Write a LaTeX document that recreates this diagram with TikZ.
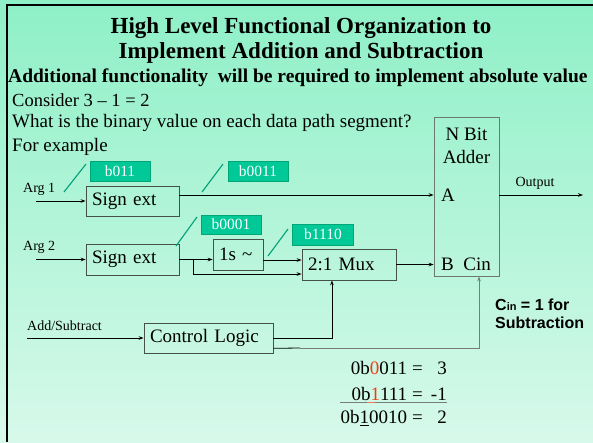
\documentclass[tikz,border=0pt]{standalone}
\usepackage{fontspec}
\setmainfont{Liberation Serif}
\newfontfamily\arialf{Liberation Sans}
\usetikzlibrary{arrows.meta,calc}
\definecolor{bgtop}{RGB}{142,240,198}
\definecolor{bgbot}{RGB}{215,249,235}
\definecolor{tagfill}{RGB}{0,200,150}
\definecolor{tagdraw}{RGB}{0,165,120}
\definecolor{slashc}{RGB}{0,160,120}
\definecolor{boxdraw}{RGB}{70,80,75}
\definecolor{adderdraw}{RGB}{110,120,115}
\definecolor{eqred}{RGB}{240,60,20}
\definecolor{cinline}{RGB}{120,125,122}
\newcommand{\myfs}[2]{\fontsize{#1}{#2}\selectfont}
\begin{document}
\begin{tikzpicture}[x=1pt,y=-1pt,
  box/.style={draw=boxdraw, line width=0.8pt, inner xsep=6pt, inner ysep=0pt, align=left, font=\myfs{19}{21}},
  tag/.style={fill=tagfill, draw=tagdraw, line width=0.8pt, text=white, font=\myfs{15.5}{17}, minimum width=60pt, minimum height=20pt, inner sep=0pt},
  slash/.style={draw=slashc, line width=1.1pt},
  arr/.style={-{Stealth[length=5pt,width=3.6pt]}, line width=0.8pt},
  small/.style={font=\myfs{14}{16}, inner sep=0pt},
  txt/.style={anchor=west, inner sep=0pt}]
\fill[top color=bgtop, bottom color=bgbot] (0,0) rectangle (593,442);
\useasboundingbox (0,0) rectangle (593,442);
\draw[line width=2.6pt, black] (593,5) -- (7,5) -- (7,442);

% texts
\node[font=\bfseries\myfs{23}{25}, align=center, inner sep=0pt] (title) at (301,40) {High Level Functional Organization to\\Implement Addition and Subtraction};
\node[txt, font=\bfseries\myfs{19.5}{22}] (addl) at (8,78) {Additional functionality~ will be required to implement absolute value};
\node[txt, font=\myfs{18.5}{20}] (consider) at (12,100) {Consider 3 \textendash\ 1 = 2};
\node[txt, font=\myfs{19}{21}] (what) at (12,123) {What is the binary value on each data path segment?};
\node[txt, font=\myfs{19}{21}] (forex) at (12,147) {For example};

% blocks
\node[box, text width=81pt, minimum height=30pt] (s1) at (132.5,201) {Sign ext};
\node[box, text width=81pt, minimum height=31pt] (s2) at (132.5,259.5) {Sign ext};
\node[box, text width=38pt, minimum height=31pt] (ones) at (238,254.5) {1s \char`~};
\node[box, text width=82pt, minimum height=31pt] (mux) at (349,264.5) {2:1 Mux};
\node[box, text width=117pt, minimum height=30pt] (ctl) at (208.5,338) {Control Logic};
\node[draw=adderdraw, line width=0.8pt, minimum width=65pt, minimum height=159pt, inner sep=0pt] (adder) at (466.5,196.5) {};
\node[font=\myfs{19}{23}, align=center, inner sep=0pt] (addername) at (466.5,146) {N Bit\\Adder};
\node[txt, font=\myfs{19}{21}] (portA) at (441,195) {A};
\node[txt, font=\myfs{19}{21}] (portB) at (441,264) {B~~Cin};

% labels
\node[small, anchor=west] (arg1) at (23,189) {Arg 1};
\node[small, anchor=west] (arg2) at (23,247) {Arg 2};
\node[small, anchor=west] (addsubl) at (27,326) {Add/Subtract};
\node[small] (outl) at (535,183) {Output};
\node[txt, align=left, font=\arialf\bfseries\myfs{16}{18}] (cinl) at (495,314) {C{\myfs{11}{12}in} = 1 for\\Subtraction};

% tags and slashes
\node[tag] (t1) at (120,171) {b011};
\node[tag] (t2) at (258,171) {b0011};
\node[tag, minimum height=19pt] (t3) at (231,224.5) {b0001};
\node[tag, minimum width=61pt, minimum height=21pt] (t4) at (323,234.5) {b1110};
\draw[slash] (64,192) -- (86,164);
\draw[slash] (202,192) -- (223,164);
\draw[slash] (176,246) -- (197,217);
\draw[slash] (268,256) -- (288,229);

% connectors
\coordinate (arg1in) at (36,201);
\coordinate (arg2in) at (36,259.5);
\coordinate (asin) at (27,338);
\coordinate (Ain) at (434,195);
\coordinate (outend) at (583,195);
\coordinate (br) at (193,259.5);
\coordinate (m1) at (302,260);
\coordinate (m2) at (302,274);
\coordinate (mid) at (300,348);
\draw[arr] (arg1in) -- (s1.west);
\draw[arr] (s1.east |- Ain) -- (adder.west |- Ain);
\draw[arr] (adder.east |- Ain) -- (outend);
\draw[arr] (arg2in) -- (s2.west);
\draw[arr] (s2.east) -- (s2.east -| ones.west);
\draw[arr] (br) |- (mux.west |- m2);
\draw[arr] (ones.east |- m1) -- (mux.west |- m1);
\draw[arr] (mux.east) -- (mux.east -| adder.west);
\draw[arr] (asin) -- (ctl.west);
\draw[arr] (ctl.east) -| ($(mux.south west)!0.32!(mux.south east)$);
\draw[line width=0.8pt] ($(ctl.east)!0.67!(ctl.south east)$) -- (mid);
\draw[arr, draw=cinline] (mid) -| ($(adder.south west)!0.69!(adder.south east)$);

% equations
\node[anchor=east, inner sep=0pt, font=\myfs{19}{21}] (eq1) at (447,368) {0b{\color{eqred}0}011\hspace{5pt}=\makebox[24pt][r]{3}};
\node[anchor=east, inner sep=0pt, font=\myfs{19}{21}] (eq2) at (447,394) {0b{\color{eqred}1}111\hspace{5pt}=\makebox[24pt][r]{-1}};
\node[anchor=east, inner sep=0pt, font=\myfs{19}{21}] (eq3) at (447,418) {0b\underline{1}0010\hspace{5pt}=\makebox[24pt][r]{2}};
\draw[line width=1pt, draw=cinline] (eq3.west |- 0,402) -- (eq2.east |- 0,402);
\draw[line width=1pt, draw=eqred!70] (367,402) -- (375,402);
\end{tikzpicture}
\end{document}
